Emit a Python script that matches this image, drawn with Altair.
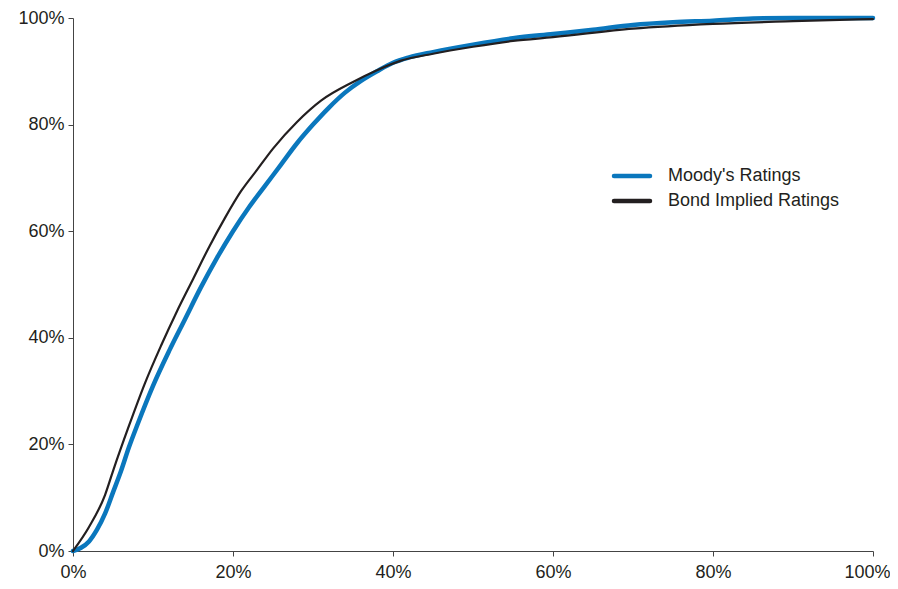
import altair as alt
import pandas as pd

# Cumulative curves (percent of population vs percent captured)
moody_x = [0, 1, 2, 3, 4, 5, 6, 7, 8, 10, 12, 14, 16, 18, 20, 22, 24, 26, 28, 30,
           32, 34, 36, 38, 40, 42, 45, 50, 55, 60, 65, 70, 75, 80, 85, 90, 100]
moody_y = [0, 0.6, 1.8, 4, 7, 11, 15, 19.5, 23.5, 31, 37.5, 43.5, 49.5, 55, 60, 64.5,
           68.5, 72.5, 76.5, 80, 83.2, 86, 88.2, 90, 91.6, 92.6, 93.6, 95, 96.2, 97,
           97.8, 98.7, 99.2, 99.5, 99.9, 100, 100]

bond_x = [0, 2, 4, 5, 7, 9, 11, 13, 15, 17, 19, 21, 23, 25, 28, 31, 35, 38, 41, 45,
          50, 55, 60, 70, 80, 90, 100]
bond_y = [0, 4.5, 10.5, 15, 23.5, 31.5, 38.5, 45, 51, 57, 62.5, 67.5, 71.5, 75.5,
          80.5, 84.5, 88, 90.2, 92, 93.3, 94.6, 95.7, 96.4, 98.0, 98.9, 99.4, 99.8]

series_names = ["Moody's Ratings", "Bond Implied Ratings"]
series_colors = ["#0a77bd", "#231f20"]
tick_values = [0, 20, 40, 60, 80, 100]

df_m = pd.DataFrame({"x": moody_x, "y": moody_y, "series": series_names[0]})
df_b = pd.DataFrame({"x": bond_x, "y": bond_y, "series": series_names[1]})

FONT = "Liberation Sans, Arial, sans-serif"

x_enc = alt.X("x:Q", scale=alt.Scale(domain=[0, 100], nice=False),
              axis=alt.Axis(values=tick_values, labelExpr="datum.value + '%'",
                            title=None, grid=False, labelFlush=False,
                            labelOffset=alt.ExprRef("datum.value == 100 ? -6 : 0")))
y_enc = alt.Y("y:Q", scale=alt.Scale(domain=[0, 100], nice=False),
              axis=alt.Axis(values=tick_values, labelExpr="datum.value + '%'",
                            title=None, grid=False, labelFlush=False))
color_enc = alt.Color("series:N",
                      scale=alt.Scale(domain=series_names, range=series_colors),
                      legend=None)

blue = alt.Chart(df_m).mark_line(interpolate="monotone", strokeWidth=4.5,
                                 strokeCap="round").encode(
    x=x_enc, y=y_enc, color=color_enc, order="x:Q")
black = alt.Chart(df_b).mark_line(interpolate="monotone", strokeWidth=2.2,
                                  strokeCap="round").encode(
    x=x_enc, y=y_enc, color=color_enc, order="x:Q")

# Manual legend (compact rows like the original)
legend_layers = []
for i, (name, col) in enumerate(zip(series_names, series_colors)):
    ldf = pd.DataFrame({"label": [name]})
    row_y = 158 + 25 * i
    legend_layers.append(
        alt.Chart(ldf).mark_rule(color=col, strokeWidth=4.5, strokeCap="round").encode(
            x=alt.value(541), x2=alt.value(577), y=alt.value(row_y)))
    legend_layers.append(
        alt.Chart(ldf).mark_text(align="left", baseline="middle", font=FONT,
                                 fontSize=18, color="#231f20").encode(
            x=alt.value(595), y=alt.value(row_y), text="label:N"))

chart = alt.layer(blue, black, *legend_layers).properties(
    width=800, height=533,
    autosize=alt.AutoSizeParams(type="none"),
    padding={"left": 65, "top": 10, "right": 17, "bottom": 30},
).configure_view(stroke=None).configure_axis(
    domainColor="#444444", domainWidth=1, tickColor="#444444", tickSize=5,
    labelFont=FONT, labelFontSize=18, labelColor="#231f20", labelPadding=4,
).configure_axisX(labelPadding=7)

chart.save("out.html", embed_options={"renderer": "svg", "actions": False})
